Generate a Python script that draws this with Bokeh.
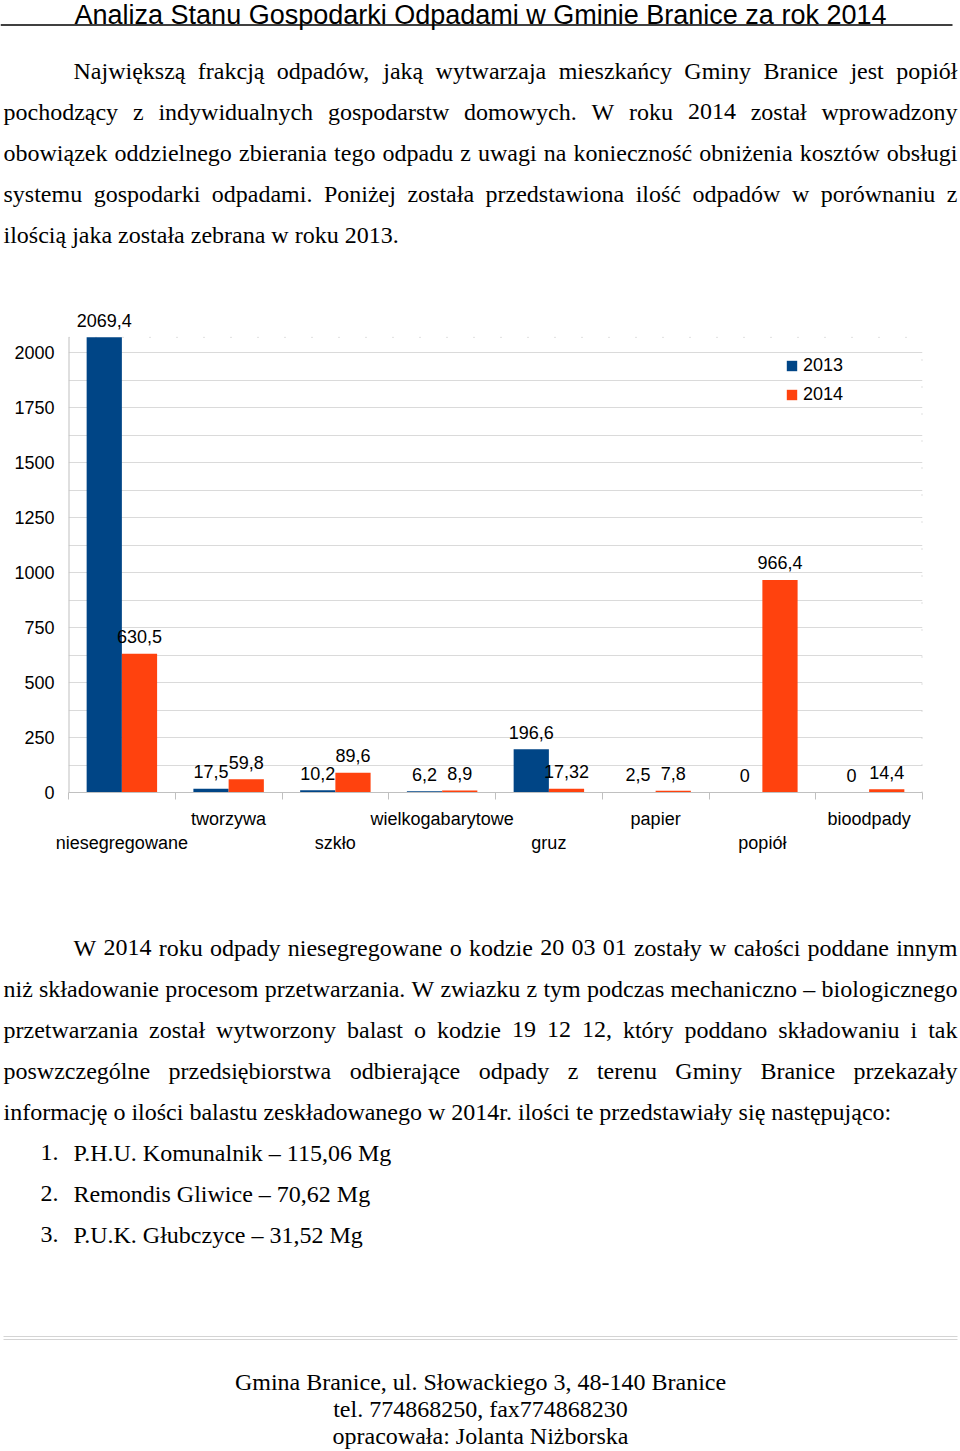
from bokeh.plotting import figure
from bokeh.models import (Range1d, ColumnDataSource, LinearAxis, FixedTicker, LabelSet,
                          Legend, LegendItem)
from bokeh.transform import dodge
from bokeh.core.properties import value
from bokeh.embed import file_html
from bokeh.resources import INLINE

# ---------------- data ----------------
categories = ["niesegregowane", "tworzywa", "szkło", "wielkogabarytowe",
              "gruz", "papier", "popiół", "bioodpady"]
values_2013 = [2069.4, 17.5, 10.2, 6.2, 196.6, 2.5, 0.0, 0.0]
values_2014 = [630.5, 59.8, 89.6, 8.9, 17.32, 7.8, 966.4, 14.4]
series_names = ["2013", "2014"]
y_ticks = [0, 250, 500, 750, 1000, 1250, 1500, 1750, 2000]
y_minor_ticks = [125, 375, 625, 875, 1125, 1375, 1625, 1875]

title_text = "Analiza Stanu Gospodarki Odpadami w Gminie Branice za rok 2014"
para1_lines = [
    "Największą frakcją odpadów, jaką wytwarzaja mieszkańcy Gminy Branice jest popiół",
    "pochodzący z indywidualnych gospodarstw domowych. W roku 2014 został wprowadzony",
    "obowiązek oddzielnego zbierania tego odpadu z uwagi na konieczność obniżenia kosztów obsługi",
    "systemu gospodarki odpadami. Poniżej została przedstawiona ilość odpadów w porównaniu z",
    "ilością  jaka została zebrana w roku 2013.",
]
para2_lines = [
    "W 2014 roku odpady niesegregowane o kodzie 20 03 01 zostały w całości poddane innym",
    "niż składowanie procesom przetwarzania. W zwiazku z tym podczas mechaniczno – biologicznego",
    "przetwarzania został wytworzony balast o kodzie 19 12 12, który poddano składowaniu i tak",
    "poswzczególne przedsiębiorstwa odbierające odpady z terenu Gminy Branice przekazały",
    "informację o ilości balastu zeskładowanego w 2014r. ilości te przedstawiały się następująco:",
]
list_numbers = ["1.", "2.", "3."]
list_items = ["P.H.U. Komunalnik – 115,06 Mg",
              "Remondis Gliwice – 70,62 Mg",
              "P.U.K. Głubczyce – 31,52 Mg"]
footer_lines = ["Gmina Branice, ul. Słowackiego 3, 48-140 Branice",
                "tel. 774868250, fax774868230",
                "opracowała: Jolanta Niżborska"]

# ---------------- styles ----------------
SERIF = "Liberation Serif"
SANS = "Liberation Sans"
BODY_SIZE = 24
BLUE = "#004586"
ORANGE = "#ff420e"
GRID = "#dadada"
AXIS = "#c0c0c0"
PAGE_W = 960
LEFT, RIGHT = 3, 957

# Times New Roman advance widths (1/1000 em) for justification
_TW = {' ': 250, ',': 250, '.': 250, ':': 278, '-': 333, '–': 500, '(': 333, ')': 333}
for ch in "0123456789":
    _TW[ch] = 500
_TW.update(dict(zip("ABCDEFGHIJKLMNOPQRSTUVWXYZ",
                    [722, 667, 667, 722, 611, 556, 722, 722, 333, 389, 722, 611, 889,
                     722, 722, 556, 722, 667, 556, 611, 722, 722, 944, 722, 722, 611])))
_TW.update(dict(zip("abcdefghijklmnopqrstuvwxyz",
                    [444, 500, 444, 500, 444, 333, 500, 500, 278, 278, 500, 278, 778,
                     500, 500, 500, 500, 333, 389, 278, 500, 500, 722, 500, 500, 444])))
_TW.update({'ą': 444, 'ć': 444, 'ę': 444, 'ł': 278, 'ń': 500, 'ó': 500, 'ś': 389,
            'ź': 444, 'ż': 444, 'Ł': 611, 'Ś': 556, 'Ż': 611})


def text_width(s, size):
    return sum(_TW.get(c, 500) for c in s) * size / 1000.0


def blank_fig(y_top, y_bottom):
    f = figure(width=PAGE_W, height=y_bottom - y_top, x_range=Range1d(0, PAGE_W),
               y_range=Range1d(y_bottom, y_top), output_backend="svg",
               toolbar_location=None, x_axis_location=None, y_axis_location=None,
               min_border=0, outline_line_color=None)
    for g in f.grid:
        g.visible = False
    f.background_fill_color = "white"
    f.border_fill_color = "white"
    return f


def serif_text(f, xs, ys, texts, align="left"):
    f.text(x=xs, y=ys, text=texts, text_font=value(SERIF), text_font_size=f"{BODY_SIZE}px",
           text_align=align, text_baseline="middle", text_color="black")


def add_paragraph(f, lines, centers, indent):
    lx, ly, lt, rx, ry, rt = [], [], [], [], [], []
    for i, (line, y) in enumerate(zip(lines, centers)):
        left = LEFT + (indent if i == 0 else 0)
        if i == len(lines) - 1:
            lx.append(left); ly.append(y); lt.append(line)
            continue
        words = line.split()
        widths = [text_width(w, BODY_SIZE) for w in words]
        gap = (RIGHT - left - sum(widths)) / (len(words) - 1)
        x = left
        for j, (w, wd) in enumerate(zip(words, widths)):
            if j == len(words) - 1:
                rx.append(RIGHT); ry.append(y); rt.append(w)
            else:
                lx.append(x); ly.append(y); lt.append(w)
            x += wd + gap
    serif_text(f, lx, ly, lt, "left")
    serif_text(f, rx, ry, rt, "right")


# ---------------- header (page y 0..300) ----------------
header = blank_fig(0, 300)
header.text(x=[480], y=[14.5], text=[title_text], text_font=value(SANS), text_font_size="27px",
            text_align="center", text_baseline="middle", text_color="black")
header.segment(x0=[0], y0=[24.5], x1=[952], y1=[24.5], line_color="black", line_width=1.5)
add_paragraph(header, para1_lines, [70, 111, 152, 193, 234], 70)

# ---------------- chart (page y 300..878) ----------------
def fmt(v):
    return f"{v:g}".replace(".", ",")

n = len(categories)
idx = list(range(n))
src = ColumnDataSource(dict(idx=idx, v13=values_2013, v14=values_2014,
                            l13=[fmt(v) for v in values_2013],
                            l14=[fmt(v) for v in values_2014]))
ymax = max(values_2013 + values_2014)

chart = figure(x_range=Range1d(-0.5, n - 0.5), y_range=Range1d(0, ymax * 1.07),
               width=PAGE_W, height=578, min_border_left=68, min_border_right=38,
               min_border_top=5, min_border_bottom=86, x_axis_location=None,
               output_backend="svg", toolbar_location=None, outline_line_color=None)

yax = chart.yaxis[0]
yax.ticker = FixedTicker(ticks=y_ticks, minor_ticks=y_minor_ticks)
yax.major_tick_out = 0
yax.major_tick_in = 0
yax.minor_tick_out = 0
yax.minor_tick_in = 0
yax.axis_line_color = None
yax.major_label_text_font = SANS
yax.major_label_text_font_size = "18px"
yax.major_label_text_color = "black"
yax.major_label_standoff = 14

for g in chart.ygrid:
    g.ticker = yax.ticker
    g.grid_line_color = GRID
    g.minor_grid_line_color = GRID
for g in chart.xgrid:
    g.visible = False

# left axis line up to the data maximum, dotted top and right edges
chart.segment(x0=[-0.5], y0=[0], x1=[-0.5], y1=[ymax], line_color=AXIS, line_width=2)
chart.segment(x0=[-0.5], y0=[ymax], x1=[n - 0.5], y1=[ymax],
              line_color="#c4c4c4", line_dash="1 26", line_width=1)
chart.segment(x0=[n - 0.5], y0=[0], x1=[n - 0.5], y1=[ymax],
              line_color="#c4c4c4", line_dash="1 26", line_width=2)

r13 = chart.vbar(x=dodge("idx", -0.165), top="v13", width=0.33,
                 source=src, fill_color=BLUE, line_color=None)
r14 = chart.vbar(x=dodge("idx", 0.165), top="v14", width=0.33,
                 source=src, fill_color=ORANGE, line_color=None)

for vfield, lfield, off in (("v13", "l13", -0.165), ("v14", "l14", 0.165)):
    chart.add_layout(LabelSet(x=dodge("idx", off), y=vfield, text=lfield,
                              source=src, text_align="center", text_baseline="middle",
                              y_offset=17, text_font=value(SANS), text_font_size="18px",
                              text_color="black"))

boundaries = [i - 0.5 for i in range(n + 1)]
for parity, standoff in ((1, 9), (0, 1)):
    ticks = [i for i in idx if i % 2 == parity]
    first = parity == 1
    ax = LinearAxis(
        ticker=FixedTicker(ticks=ticks, minor_ticks=boundaries if first else []),
        major_label_overrides={i: categories[i] for i in ticks},
        axis_line_color=AXIS if first else None,
        major_tick_line_color=None,
        minor_tick_line_color=AXIS if first else None,
        major_tick_out=0, major_tick_in=0,
        minor_tick_out=7 if first else 0, minor_tick_in=0,
        major_label_standoff=standoff, major_label_text_font=SANS,
        major_label_text_font_size="18px", major_label_text_color="black")
    chart.add_layout(ax, "below")

legend = Legend(items=[LegendItem(label=series_names[0], renderers=[r13]),
                       LegendItem(label=series_names[1], renderers=[r14])],
                location=(717, 387), orientation="vertical", padding=0, margin=0,
                spacing=8, glyph_width=13, glyph_height=13, label_standoff=5,
                label_height=20, label_text_font=SANS, label_text_font_size="18px",
                label_text_color="black", border_line_color=None, background_fill_alpha=0)
chart.add_layout(legend)

# ---------------- footer (page y 878..1450) ----------------
footer = blank_fig(878, 1450)
add_paragraph(footer, para2_lines, [947, 988, 1029, 1070, 1111], 70)
serif_text(footer, [40] * 3, [1152, 1193, 1234], list_numbers)
serif_text(footer, [73] * 3, [1152, 1193, 1234], list_items)
footer.segment(x0=[LEFT, LEFT], y0=[1336, 1339], x1=[RIGHT, RIGHT], y1=[1336, 1339],
               line_color="#d4d4d4", line_width=1)
serif_text(footer, [480] * 3, [1381, 1408, 1435], footer_lines, "center")

open("out.html", "w").write(file_html([header, chart, footer], INLINE))
